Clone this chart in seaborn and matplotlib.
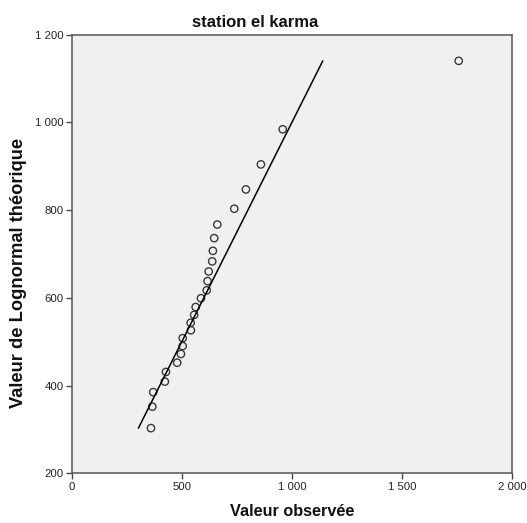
import matplotlib
matplotlib.use("Agg")
import matplotlib.pyplot as plt
import matplotlib.ticker as mticker
import numpy as np
import pandas as pd
import seaborn as sns

# Observed values and their theoretical lognormal quantiles
observed = [360, 366, 370, 423, 428, 479, 496, 504, 504, 541, 540, 556, 563,
            587, 613, 617, 622, 638, 641, 647, 661, 738, 791, 859, 958, 1757]
theoretical = [303, 352, 385, 409, 431, 452, 472, 490, 508, 526, 543, 561, 579,
               599, 617, 638, 660, 683, 707, 736, 767, 803, 847, 904, 984, 1140]

x_ticks = [0, 500, 1000, 1500, 2000]
y_ticks = [200, 400, 600, 800, 1000, 1200]

df = pd.DataFrame({"obs": observed, "theo": theoretical})
ref = pd.DataFrame({"v": [min(theoretical), max(theoretical)]})

sns.set_theme(style="ticks")
plt.rcParams["font.family"] = ["Liberation Sans", "DejaVu Sans"]

fig = plt.figure(figsize=(5.27, 5.23), dpi=100)
ax = fig.add_axes([0.136, 0.095, 0.836, 0.839])
ax.set_facecolor("#f0f0f0")

# reference line y = x over the range of theoretical values
sns.lineplot(data=ref, x="v", y="v", ax=ax, color="black", linewidth=1.1)
sns.scatterplot(data=df, x="obs", y="theo", ax=ax, marker="o", s=28,
                facecolor="none", edgecolor="#3a3a3a", linewidth=1.0)

ax.set_xlim(0, 2000)
ax.set_ylim(200, 1200)
ax.set_xticks(x_ticks)
ax.set_yticks(y_ticks)
fmt = mticker.FuncFormatter(lambda v, p: f"{int(v):,}".replace(",", " "))
ax.xaxis.set_major_formatter(fmt)
ax.yaxis.set_major_formatter(fmt)
ax.tick_params(axis="both", direction="out", length=4.5, width=1,
               color="#444444", labelsize=8.2, labelcolor="#222222", pad=1.5)

for sp in ax.spines.values():
    sp.set_color("#555555")
    sp.set_linewidth(1.1)

ax.set_xlabel("Valeur observée", fontsize=11.7, fontweight="bold", color="#111111",
              va="center")
ax.set_ylabel("Valeur de Lognormal théorique", fontsize=13.2, fontweight="bold",
              color="#111111", va="center")
ax.xaxis.set_label_coords(0.5, -0.088)
ax.yaxis.set_label_coords(-0.121, 0.457)

fig.text(255 / 527, 1 - 22.7 / 523, "station el karma", ha="center", va="center",
         fontsize=12, fontweight="bold", color="#111111")

fig.savefig("out.png", dpi=100)
